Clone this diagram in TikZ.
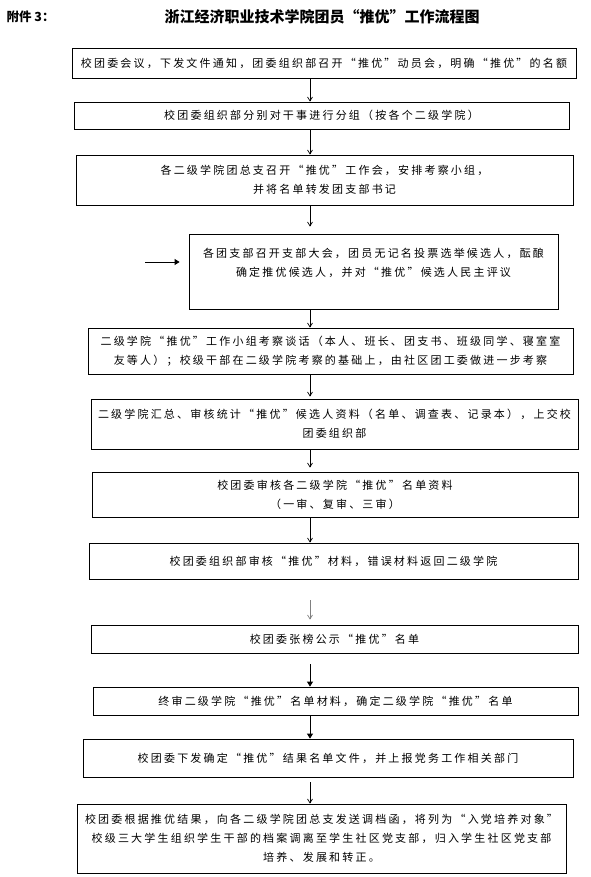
\documentclass[tikz,border=0pt]{standalone}
\usepackage{fontspec}
\newfontfamily\cjk[LetterSpace=20,RawFeature=+fwid]{Noto Sans CJK SC}
\newfontfamily\cjkhead[RawFeature=+fwid]{Noto Sans CJK SC}
\newfontfamily\cjkplain{Noto Sans CJK SC}
\usetikzlibrary{arrows.meta,positioning}

\begin{document}
\begin{tikzpicture}[x=1pt, y=-1pt,
  font=\cjk\fontsize{11}{19}\selectfont,
  box/.style={draw, line width=0.8pt, align=center, inner sep=0pt},
  arr/.style={-{Straight Barb[length=4pt,width=5pt]}, line width=0.7pt},
  arrfill/.style={-{Triangle[length=5pt,width=6pt]}, line width=0.8pt}
]
\useasboundingbox (0,0) rectangle (590,877);

% heading
\node[anchor=west, font=\cjkplain\bfseries\fontsize{12.5}{15}\selectfont] (annex) at (3,17) {附件 3：};
\node[font=\cjkhead\bfseries\fontsize{15}{18}\selectfont] (title) at (322,17) {浙江经济职业技术学院团员“推优”工作流程图};

% steps
\node[box, minimum width=504pt, minimum height=30pt] (meet) at (324,63) {校团委会议，下发文件通知，团委组织部召开“推优”动员会，明确“推优”的名额};
\node[box, minimum width=495pt, minimum height=27pt] (group) at (321.5,115.5) {校团委组织部分别对干事进行分组（按各个二级学院）};
\node[box, minimum width=497pt, minimum height=50pt] (college) at (324.5,180) {各二级学院团总支召开“推优”工作会，安排考察小组，\\并将名单转发团支部书记};
\node[box, minimum width=369pt, minimum height=75pt] (branch) at (373.5,271.5) {各团支部召开支部大会，团员无记名投票选举候选人，酝酿\\确定推优候选人，并对“推优”候选人民主评议\\~};
\node[box, minimum width=485pt, minimum height=46pt] (talk) at (330.5,351) {二级学院“推优”工作小组考察谈话（本人、班长、团支书、班级同学、寝室室\\友等人）；校级干部在二级学院考察的基础上，由社区团工委做进一步考察};
\node[box, minimum width=487pt, minimum height=50pt] (collect) at (334.5,424) {二级学院汇总、审核统计“推优”候选人资料（名单、调查表、记录本），上交校\\团委组织部};
\node[box, minimum width=486pt, minimum height=45pt] (review) at (335,494.5) {校团委审核各二级学院“推优”名单资料\\（一审、复审、三审）};
\node[box, minimum width=489pt, minimum height=36pt] (check) at (333.5,561) {校团委组织部审核“推优”材料，错误材料返回二级学院};
\node[box, minimum width=487pt, minimum height=28pt] (notice) at (334.5,639) {校团委张榜公示“推优”名单};
\node[box, minimum width=485pt, minimum height=28pt] (final) at (335.5,701) {终审二级学院“推优”名单材料，确定二级学院“推优”名单};
\node[box, minimum width=490pt, minimum height=38pt] (issue) at (328,758) {校团委下发确定“推优”结果名单文件，并上报党务工作相关部门};
\node[box, minimum width=489pt, minimum height=69pt] (file) at (321.5,838.5) {校团委根据推优结果，向各二级学院团总支发送调档函，将列为“入党培养对象”\\校级三大学生组织学生干部的档案调离至学生社区党支部，归入学生社区党支部\\培养、发展和转正。};

\coordinate (col) at (310,0);
\coordinate (side) at (145,262);

% arrows
\draw[arr] (meet.south -| col) -- (group.north -| col);
\draw[arr] (group.south -| col) -- (college.north -| col);
\draw[arr, shorten >=7pt] (college.south -| col) -- (branch.north -| col);
\draw[arrfill, line width=0.9pt] (side) -- (side -| branch.west) [shorten >=9pt];
\draw[arr] (branch.south -| col) -- (talk.north -| col);
\draw[arr, shorten >=2pt] (talk.south -| col) -- (collect.north -| col);
\draw[arr, shorten >=4pt] (collect.south -| col) -- (review.north -| col);
\draw[arr] (review.south -| col) -- (check.north -| col);
\draw[arr, draw=gray, shorten <=21pt, shorten >=5pt] (check.south -| col) -- (notice.north -| col);
\draw[arrfill, shorten <=11pt] (notice.south -| col) -- (final.north -| col);
\draw[arrfill] (final.south -| col) -- (issue.north -| col);
\draw[arr, shorten <=5pt] (issue.south -| col) -- (file.north -| col);

\end{tikzpicture}
\end{document}
